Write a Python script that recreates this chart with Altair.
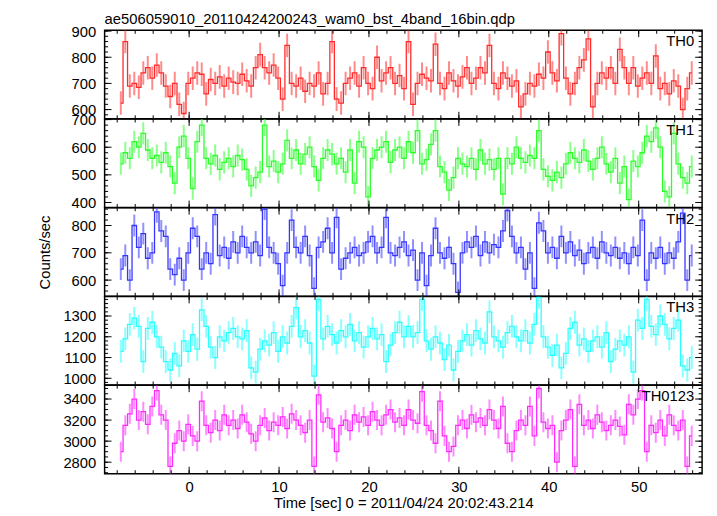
import altair as alt
import pandas as pd

FONT = "Liberation Sans"
TITLE = "ae506059010_20110424200243_wam0_bst_4band_16bin.qdp"
XTITLE = "Time [sec] 0 = 2011/04/24 20:02:43.214"

T_START = -7.85   # start of first bin (s)
BIN = 0.5         # bin width (s)
X_DOMAIN = [-9.4, 57.05]
X_MAJOR = [0, 10, 20, 30, 40, 50]
X_MINOR = list(range(-8, 57, 2))

TH0 = [625, 860, 690, 700, 685, 740, 760, 720,
       770, 740, 690, 650, 700, 620, 585, 700,
       720, 740, 735, 660, 715, 700, 725, 690,
       720, 705, 700, 735, 710, 690, 760, 810,
       760, 740, 770, 720, 640, 845, 700, 690,
       720, 670, 700, 690, 740, 660, 700, 860,
       640, 625, 700, 720, 740, 690, 760, 700,
       680, 800, 710, 740, 760, 700, 730, 680,
       860, 620, 700, 735, 720, 710, 850, 700,
       680, 740, 710, 690, 725, 760, 700, 720,
       760, 740, 845, 700, 680, 740, 720, 690,
       710, 610, 660, 700, 690, 735, 720, 820,
       740, 710, 890, 720, 660, 700, 760, 790,
       870, 610, 700, 740, 720, 760, 700, 830,
       760, 700, 760, 690, 720, 740, 700, 805,
       680, 700, 660, 710, 690, 600, 680, 740]

TH1 = [540, 580, 560, 620, 600, 650, 590, 560,
       570, 545, 580, 530, 470, 600, 640, 560,
       450, 620, 680, 560, 540, 570, 520, 545,
       560, 530, 570, 555, 520, 460, 490, 510,
       680, 530, 550, 510, 540, 625, 560, 590,
       540, 575, 600, 530, 480, 560, 590, 575,
       540, 560, 510, 590, 470, 620, 600, 420,
       560, 590, 600, 620, 545, 590, 600, 560,
       620, 580, 660, 540, 555, 610, 660, 530,
       510, 445, 490, 560, 540, 530, 560, 520,
       590, 540, 555, 520, 560, 430, 560, 540,
       600, 560, 545, 570, 560, 660, 520, 495,
       480, 510, 490, 540, 580, 560, 545, 590,
       550, 520, 560, 600, 540, 510, 560, 470,
       530, 410, 550, 530, 580, 640, 620, 670,
       600, 440, 420, 650, 540, 490, 470, 530]

TH2 = [640, 690, 600, 800, 720, 770, 680, 700,
       850, 780, 760, 640, 620, 680, 600, 700,
       790, 760, 640, 700, 660, 840, 690, 720,
       680, 740, 700, 760, 720, 700, 740, 690,
       860, 720, 700, 660, 580, 700, 820, 720,
       700, 760, 690, 570, 720, 740, 790, 700,
       830, 640, 680, 700, 720, 690, 700, 740,
       760, 700, 720, 830, 700, 690, 720, 740,
       690, 710, 600, 700, 580, 690, 790, 700,
       680, 720, 660, 555, 700, 740, 720, 760,
       690, 740, 700, 730, 720, 780, 855, 760,
       700, 720, 640, 700, 570, 810, 780, 700,
       720, 680, 760, 700, 740, 690, 710, 660,
       700, 720, 680, 740, 700, 690, 720, 680,
       700, 660, 720, 690, 820, 600, 700, 680,
       720, 660, 700, 680, 740, 845, 600, 690]

TH3 = [1130, 1190, 1260, 1290, 1250, 1080, 1240, 1270,
       1200, 1150, 1080, 1040, 1120, 1060, 1180, 1130,
       1210, 1140, 1330, 1250, 1150, 1100, 1200, 1180,
       1220, 1240, 1200, 1190, 1230, 1050, 1030, 1140,
       1180, 1160, 1220, 1130, 1200, 1170, 1250, 1340,
       1200, 1230, 1170, 1010, 1380, 1190, 1250, 1210,
       1170, 1230, 1200, 1260, 1180, 1220, 1150, 1200,
       1240, 1190, 1210, 1080, 1160, 1220, 1270, 1200,
       1250, 1200, 1220, 1380, 1180, 1140, 1200, 1170,
       1090, 1160, 1040, 1130, 1180, 1210, 1160, 1230,
       1190, 1170, 1320, 1200, 1180, 1150, 1220, 1250,
       1200, 1180, 1230, 1170, 1260, 1390, 1200, 1150,
       1110, 1160, 1050, 1120, 1240, 1270, 1160, 1190,
       1130, 1180, 1200, 1150, 1220, 1080, 1140, 1180,
       1160, 1200, 1030, 1280, 1240, 1380, 1250, 1210,
       1300, 1260, 1190, 1240, 1280, 1060, 1040, 1100]

TH0123 = [2900, 3150, 3260, 3400, 3200, 3280, 3160, 3330,
          3480, 3250, 3200, 2760, 2980, 3100, 3000, 3160,
          3050, 3000, 3380, 3150, 3080, 3200, 3100, 3250,
          3150, 3200, 3120, 3250, 3180, 3070, 3000, 3150,
          3220, 3100, 3180, 3150, 3230, 3120, 3260, 3200,
          3150, 3080, 3200, 2760, 3440, 3180, 3220, 3120,
          2900, 3150, 3200, 3100, 3250, 3180, 3230, 3150,
          3280, 3200, 3150, 3250, 3300, 3180, 3220, 3150,
          3300, 3200, 3170, 3470, 3150, 3100, 2980, 3380,
          3050, 2900, 2950, 3150, 3200, 3120, 3250, 3180,
          3220, 3150, 3300, 3200, 3120, 3330, 2980, 2900,
          3100, 3200, 3150, 3330, 3050, 3500, 3180, 3120,
          3150, 2800, 3100, 3200, 3300, 2760, 3350, 3150,
          3200, 3120, 3250, 3180, 3100, 3150, 3200, 3140,
          3060, 3350, 3250, 3400, 3480, 2900, 3150, 3080,
          3200, 3050, 3250, 3150, 3100, 3200, 2760, 3050]

NAMES = ["TH0", "TH1", "TH2", "TH3", "TH0123"]
VALUES = [TH0, TH1, TH2, TH3, TH0123]
ERRORS = [45, 40, 40, 55, 95]
COLORS = ["#ff2a2a", "#2aff2a", "#3535ff", "#2affff", "#ff2aff"]
Y_DOMAINS = [[565, 903], [382, 702], [541, 865], [968, 1394], [2691, 3531]]
Y_MAJOR = [[600, 700, 800, 900], [400, 500, 600, 700], [600, 700, 800],
           [1000, 1100, 1200, 1300], [2800, 3000, 3200, 3400]]
Y_MINOR = [list(range(580, 901, 20)), list(range(400, 701, 20)), list(range(560, 861, 20)),
           list(range(980, 1381, 20)), list(range(2700, 3501, 50))]

W = 606
H = 89.7
MAJ = 7
MIN = 3.5


def panel(idx):
    name = NAMES[idx]
    vals = VALUES[idx]
    err = ERRORS[idx]
    color = COLORS[idx]
    t = [T_START + BIN * (k + 0.5) for k in range(len(vals))]
    df = pd.DataFrame({"t": t, "r": vals,
                       "lo": [v - err for v in vals],
                       "hi": [v + err for v in vals]})
    xs = alt.Scale(domain=X_DOMAIN, nice=False, zero=False)
    ys = alt.Scale(domain=Y_DOMAINS[idx], nice=False, zero=False)

    if idx == 4:
        xaxis = alt.Axis(values=X_MAJOR, ticks=False, domain=False, grid=False,
                         labelPadding=6, title=XTITLE, titlePadding=1, format="d",
                         labelFlush=False, labelOverlap=False)
    else:
        xaxis = None
    if idx == 2:
        yaxis = alt.Axis(values=Y_MAJOR[idx], ticks=False, domain=False, grid=False,
                         labelPadding=9, labelFlush=False, labelOverlap=False, format="d",
                         title="Counts/sec", titleX=-61, titleY=H / 2,
                         titleAlign="center", titleBaseline="middle", titleAngle=270)
    else:
        yaxis = alt.Axis(values=Y_MAJOR[idx], ticks=False, domain=False, grid=False,
                         labelPadding=9, labelFlush=False, labelOverlap=False, format="d",
                         title=None)

    def X(f):
        return alt.X(f, type="quantitative", scale=xs, axis=xaxis)

    def Y(f):
        return alt.Y(f, type="quantitative", scale=ys, axis=yaxis)

    errs = alt.Chart(df).mark_rule(color=color, opacity=0.55, strokeWidth=2, clip=True).encode(
        x=X("t"), y=Y("lo"), y2="hi")
    line = alt.Chart(df).mark_line(interpolate="step", color=color, strokeWidth=1.3,
                                   clip=True).encode(x=X("t"), y=Y("r"))

    layers = [errs, line]
    xmaj = pd.DataFrame({"t": X_MAJOR})
    xmin = pd.DataFrame({"t": X_MINOR})
    for d, L in ((xmaj, MAJ), (xmin, MIN)):
        layers.append(alt.Chart(d).mark_rule(color="black", strokeWidth=1).encode(
            x=X("t"), y=alt.value(0), y2=alt.value(L)))
        layers.append(alt.Chart(d).mark_rule(color="black", strokeWidth=1).encode(
            x=X("t"), y=alt.value(H), y2=alt.value(H - L)))
    ymaj = pd.DataFrame({"r": Y_MAJOR[idx]})
    ymin = pd.DataFrame({"r": [v for v in Y_MINOR[idx]
                               if Y_DOMAINS[idx][0] <= v <= Y_DOMAINS[idx][1]]})
    for d, L in ((ymaj, MAJ), (ymin, MIN)):
        layers.append(alt.Chart(d).mark_rule(color="black", strokeWidth=1).encode(
            y=Y("r"), x=alt.value(0), x2=alt.value(L)))
        layers.append(alt.Chart(d).mark_rule(color="black", strokeWidth=1).encode(
            y=Y("r"), x=alt.value(W), x2=alt.value(W - L)))
    lab = pd.DataFrame({"label": [name]})
    layers.append(alt.Chart(lab).mark_text(align="right", baseline="alphabetic",
                                           fontSize=15, font=FONT, color="black").encode(
        text="label:N", x=alt.value(W - 8), y=alt.value(16)))

    ch = alt.layer(*layers).properties(width=W, height=H)
    if idx == 0:
        ch = ch.properties(title=alt.TitleParams(text=TITLE, anchor="start", frame="group",
                                                 fontSize=15, font=FONT, fontWeight="normal",
                                                 color="black", offset=-3))
    return ch


chart = alt.vconcat(*[panel(i) for i in range(5)], spacing=0, bounds="flush").properties(
    padding={"left": 29, "top": 0, "right": 5, "bottom": 0}
).configure_view(stroke="black", strokeWidth=1.5).configure_axis(
    labelFont=FONT, labelFontSize=15, labelColor="black",
    titleFont=FONT, titleFontSize=15, titleColor="black", titleFontWeight="normal"
)

chart.save("out.html", embed_options={"renderer": "svg", "actions": False})
